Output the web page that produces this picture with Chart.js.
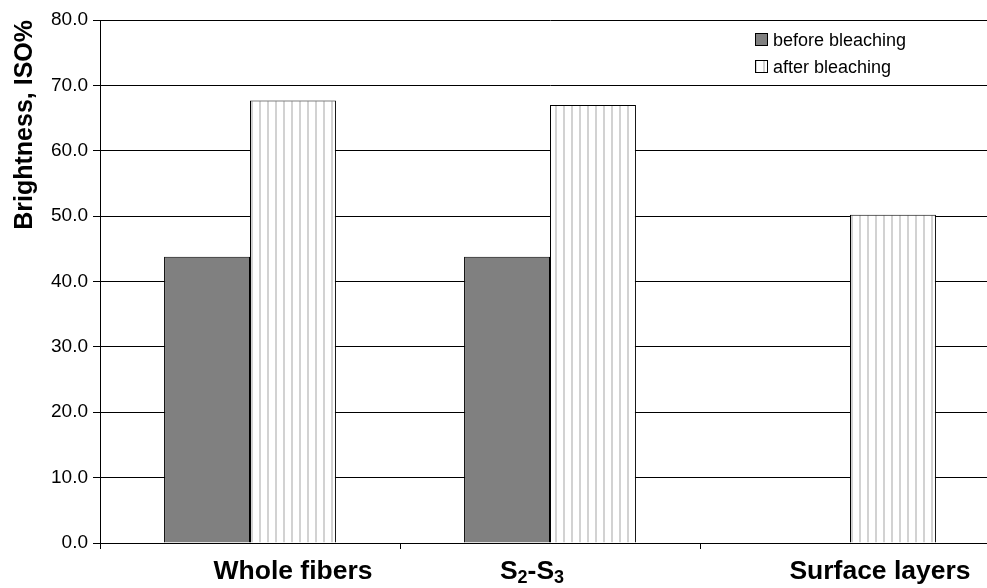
<!DOCTYPE html>
<html>
<head>
<meta charset="utf-8">
<script src="https://cdn.jsdelivr.net/npm/chart.js@4"></script>
<style>
  html, body { margin: 0; padding: 0; background: #fff; }
  #wrap { width: 987px; height: 588px; overflow: hidden; position: relative; }
</style>
</head>
<body>
<div id="wrap"><canvas id="chart" width="1010" height="588"></canvas></div>
<script>
// data
const categories = ['Whole fibers', 'S2-S3', 'Surface layers'];
const beforeBleaching = [43.8, 43.8, null];
const afterBleaching = [67.7, 67.0, 50.2];
const seriesNames = ['before bleaching', 'after bleaching'];
const yTitle = 'Brightness, ISO%';

// x labels sit a bit off the category centre in the original
const labelShift = [43, -18, 30];

// vertical stripe pattern for the "after" bars
function stripes() {
    const c = document.createElement('canvas');
    c.width = 8; c.height = 8;
    const g = c.getContext('2d');
    g.fillStyle = '#fff';
    g.fillRect(0, 0, 8, 8);
    g.fillStyle = '#d2d2d2';
    g.fillRect(3, 0, 2, 8);
    return g.createPattern(c, 'repeat');
}
const stripeFill = stripes();

const xLabels = {
    id: 'xLabels',
    afterDraw(chart) {
        const ctx = chart.ctx, xs = chart.scales.x;
        ctx.save();
        ctx.fillStyle = '#000';
        ctx.textBaseline = 'middle';
        categories.forEach((lab, i) => {
            const cx = xs.getPixelForValue(i) + labelShift[i];
            const y = 572;
            // split into parts so S2 / S3 get subscripts
            const parts = [];
            lab.split(/(?<=S)(\d)/).forEach((p, k) => parts.push({ t: p, sub: k % 2 == 1 }));
            const big = 'bold 26.5px "Liberation Sans", Arial, sans-serif';
            const small = 'bold 18px "Liberation Sans", Arial, sans-serif';
            let w = 0;
            parts.forEach(p => { ctx.font = p.sub ? small : big; w += ctx.measureText(p.t).width; });
            let x = cx - w / 2;
            ctx.textAlign = 'left';
            parts.forEach(p => {
                ctx.font = p.sub ? small : big;
                ctx.fillText(p.t, x, p.sub ? y + 6 : y);
                x += ctx.measureText(p.t).width;
            });
        });
        ctx.restore();
    }
};

const boxLegend = {
    id: 'boxLegend',
    afterDraw(chart) {
        const ctx = chart.ctx;
        ctx.save();
        ctx.font = '18px "Liberation Sans", Arial, sans-serif';
        ctx.textBaseline = 'middle';
        ctx.textAlign = 'left';
        chart.data.datasets.forEach((ds, i) => {
            const y = 40 + i * 27;
            ctx.fillStyle = ds.backgroundColor;
            ctx.fillRect(755.5, y - 6.5, 12, 12);
            ctx.strokeStyle = '#000';
            ctx.lineWidth = 1;
            ctx.strokeRect(755.5, y - 6.5, 12, 12);
            ctx.fillStyle = '#000';
            ctx.fillText(ds.label, 773, y + 1);
        });
        ctx.restore();
    }
};

new Chart(document.getElementById('chart'), {
    type: 'bar',
    data: {
        labels: categories,
        datasets: [{
            label: seriesNames[0],
            data: beforeBleaching,
            backgroundColor: '#808080',
            borderColor: '#000',
            borderWidth: 1
        }, {
            label: seriesNames[1],
            data: afterBleaching,
            backgroundColor: stripeFill,
            borderColor: '#000',
            borderWidth: 1
        }]
    },
    options: {
        responsive: false,
        animation: false,
        devicePixelRatio: 1,
        categoryPercentage: 0.573,
        barPercentage: 1,
        layout: { padding: { top: 20, right: 10, left: 0, bottom: 0 } },
        plugins: {
            legend: { display: false },
            tooltip: { enabled: false }
        },
        scales: {
            x: {
                afterFit: s => { s.height = 45; },
                grid: { display: true, drawOnChartArea: false, offset: true, color: '#000', tickLength: 6 },
                border: { color: '#000' },
                ticks: { display: false }
            },
            y: {
                min: 0,
                max: 80,
                afterFit: s => { s.width = 100; },
                grid: { color: '#000', tickLength: 7 },
                border: { color: '#000' },
                ticks: {
                    stepSize: 10,
                    padding: 5,
                    color: '#000',
                    font: { family: '"Liberation Sans", Arial, sans-serif', size: 19 },
                    callback: v => v.toFixed(1)
                },
                title: {
                    display: true,
                    text: yTitle,
                    align: 'end',
                    color: '#000',
                    padding: { top: 10, bottom: 0 },
                    font: { family: '"Liberation Sans", Arial, sans-serif', size: 25, weight: 'bold' }
                }
            }
        }
    },
    plugins: [xLabels, boxLegend]
});
</script>
</body>
</html>
